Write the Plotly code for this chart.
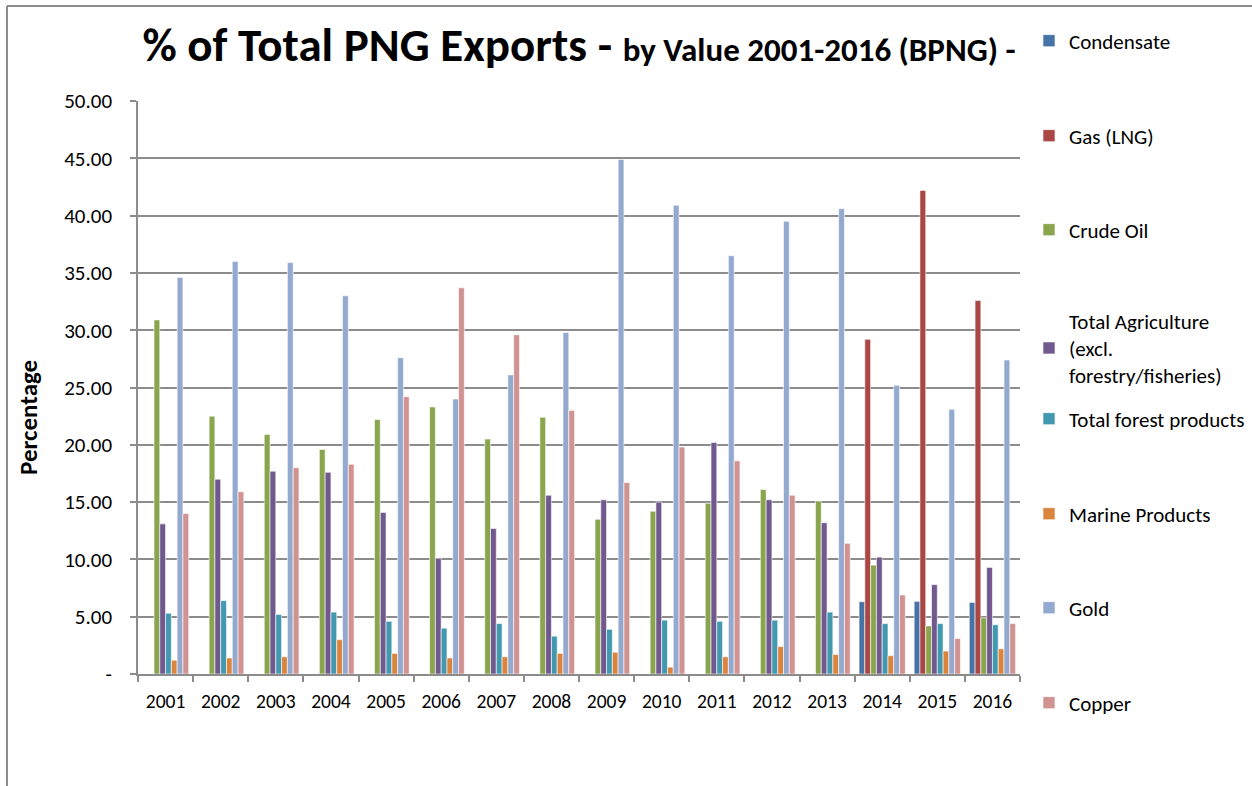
"""
% of Total PNG Exports by value, 2001-2016 (BPNG) - clustered column chart.
"""

import plotly.graph_objects as go

years = ["2001", "2002", "2003", "2004", "2005", "2006", "2007", "2008",
         "2009", "2010", "2011", "2012", "2013", "2014", "2015", "2016"]

condensate = [None] * 13 + [6.31, 6.34, 6.25]
gas_lng = [None] * 13 + [29.2, 42.2, 32.6]
crude_oil = [30.9, 22.5, 20.9, 19.6, 22.2, 23.3, 20.5, 22.4,
             13.5, 14.2, 14.9, 16.1, 15.1, 9.5, 4.2, 4.9]
agriculture = [13.1, 17.0, 17.7, 17.6, 14.1, 10.1, 12.7, 15.6,
               15.2, 15.0, 20.2, 15.2, 13.2, 10.2, 7.8, 9.3]
forest = [5.3, 6.4, 5.2, 5.4, 4.6, 4.0, 4.4, 3.3,
          3.9, 4.7, 4.6, 4.7, 5.4, 4.4, 4.4, 4.3]
marine = [1.2, 1.4, 1.5, 3.0, 1.8, 1.4, 1.5, 1.8,
          1.9, 0.6, 1.5, 2.4, 1.7, 1.6, 2.0, 2.2]
gold = [34.6, 36.0, 35.9, 33.0, 27.6, 24.0, 26.1, 29.8,
        44.9, 40.9, 36.5, 39.5, 40.6, 25.2, 23.1, 27.4]
copper = [14.0, 15.9, 18.0, 18.3, 24.2, 33.7, 29.6, 23.0,
          16.7, 19.8, 18.6, 15.6, 11.4, 6.9, 3.1, 4.4]

series_names = ["Condensate", "Gas (LNG)", "Crude Oil",
                "Total Agriculture<br>(excl.<br>forestry/fisheries)",
                "Total forest products", "Marine Products", "Gold", "Copper"]
series_values = [condensate, gas_lng, crude_oil, agriculture,
                 forest, marine, gold, copper]
colors = ["#4572A7", "#AA4643", "#89A54E", "#71588F",
          "#4198AF", "#DB843D", "#93A9CF", "#D19392"]

y_ticks = [0, 5, 10, 15, 20, 25, 30, 35, 40, 45, 50]
y_labels = ["-"] + ["%.2f" % v for v in y_ticks[1:]]

FONT = "Calibri, Carlito, Lato, sans-serif"
W, H = 1252, 786
L, R, T, B = 138, 1020, 101, 674
BORDER = "#8c8c8c"


def px_x(x):
    return (x - L) / (R - L)


def px_y(y):
    return (B - y) / (B - T)


# legend entries sit at fixed heights, like the Excel original
legend_y = [41, 136, 230, 348, 419, 514, 608, 703]

fig = go.Figure()
for i, (name, vals, col) in enumerate(zip(series_names, series_values, colors)):
    lg = "legend" if i == 0 else "legend%d" % (i + 1)
    fig.add_bar(name=name, x=years, y=vals, marker_color=col,
                marker_line=dict(color="white", width=0.6),
                legend=lg, showlegend=True)

layout_opts = dict(
    width=W, height=H, showlegend=True,
    margin=dict(l=L, r=W - R, t=T, b=H - B, autoexpand=False),
    paper_bgcolor="white", plot_bgcolor="white",
    font=dict(family=FONT, size=19, color="#000000"),
    barmode="group", bargap=0.16, bargroupgap=0,
    title=dict(
        text="<b>% of Total PNG Exports - "
             "<span style='font-size:33px'>by Value 2001-2016 (BPNG) -</span></b>",
        x=0.5, xref="paper", xanchor="center",
        y=1 - 45 / H, yref="container", yanchor="middle",
        font=dict(family=FONT, size=47, color="#000000"),
    ),
    # chart-area border (only top and left edges fall inside the picture)
    shapes=[
        dict(type="line", xref="paper", yref="paper", layer="above",
             x0=px_x(7), x1=px_x(1252), y0=px_y(6), y1=px_y(6),
             line=dict(color=BORDER, width=2)),
        dict(type="line", xref="paper", yref="paper", layer="above",
             x0=px_x(7), x1=px_x(7), y0=px_y(6), y1=px_y(786),
             line=dict(color=BORDER, width=2)),
    ],
    annotations=[
        dict(text="<b>Percentage</b>", textangle=-90,
             xref="paper", yref="paper", x=px_x(28), y=px_y(418),
             xanchor="center", yanchor="middle", showarrow=False,
             font=dict(family=FONT, size=25, color="#000000")),
    ],
)
for i in range(8):
    key = "legend" if i == 0 else "legend%d" % (i + 1)
    layout_opts[key] = dict(
        xref="container", yref="container",
        x=1029 / W, xanchor="left",
        y=1 - legend_y[i] / H, yanchor="middle",
        bgcolor="rgba(0,0,0,0)", borderwidth=0, visible=True,
        font=dict(family=FONT, size=21, color="#000000"),
        itemclick=False, itemdoubleclick=False,
    )
fig.update_layout(**layout_opts)

fig.update_xaxes(
    type="category", showgrid=False, showline=True, automargin=False,
    linecolor=BORDER, linewidth=1.5,
    ticks="outside", tickson="boundaries", ticklen=6,
    tickcolor=BORDER, tickwidth=1.5, ticklabelstandoff=9,
    tickfont=dict(family=FONT, size=19.5, color="#000000"),
)
fig.update_yaxes(
    range=[0, 50], tickvals=y_ticks, ticktext=y_labels, automargin=False,
    showgrid=True, gridcolor=BORDER, gridwidth=1.8,
    showline=True, linecolor=BORDER, linewidth=1.5,
    ticks="outside", ticklen=6, tickcolor=BORDER, tickwidth=1.5,
    ticklabelstandoff=14,
    tickfont=dict(family=FONT, size=21, color="#000000"),
    zeroline=False,
)

fig.write_html("out.html", config={"displayModeBar": False},
               post_script="document.body.style.margin = '0px';")
